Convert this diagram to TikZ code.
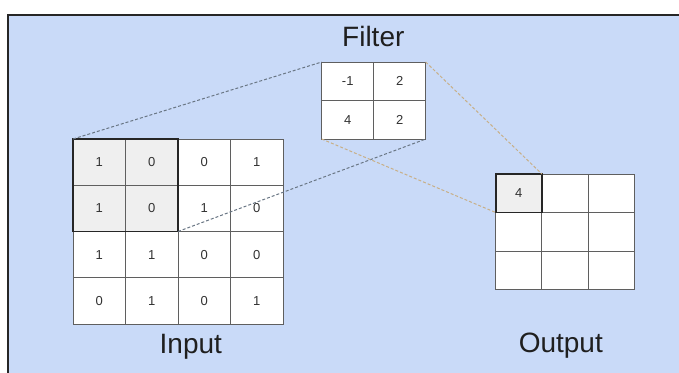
\documentclass[tikz,border=0pt]{standalone}
\usepackage{fontspec}
\setmainfont{Liberation Sans}
\usepackage{tikz}
\usetikzlibrary{positioning,calc}
\definecolor{PanelBlue}{RGB}{201,218,248}
\definecolor{GridGray}{RGB}{95,95,95}
\definecolor{CellGray}{RGB}{239,239,239}
\definecolor{LinkGray}{RGB}{105,118,132}
\definecolor{LinkTan}{RGB}{200,175,135}
\definecolor{TextDark}{RGB}{50,50,50}

\begin{document}
\begin{tikzpicture}[x=1pt,y=-1pt,every node/.style={font=\fontsize{13}{15}\selectfont,text=TextDark}]
\tikzset{cell/.style={draw=GridGray,line width=0.9pt,fill=white,inner sep=0pt,outer sep=0pt},incell/.style={cell,minimum width=52.5pt,minimum height=46.25pt},fcell/.style={cell,minimum width=52pt,minimum height=38.5pt},ocell/.style={cell,minimum width=46.2pt,minimum height=38.5pt},title/.style={font=\fontsize{28}{30}\selectfont,text=black!88,anchor=base},link/.style={dash pattern=on 3pt off 2pt,line width=1pt}}
\useasboundingbox (0,0) rectangle (679,372);
\clip (0,0) rectangle (679,372);
% panel
\fill[PanelBlue] (8,15) rectangle (700,390);
\draw[line width=2pt,black!85] (8,390) -- (8,15) -- (700,15);
% input 4x4, first two columns of rows 1-2 shaded
\foreach \r/\row/\k in {1/{1,0,0,1}/2,2/{1,0,1,0}/2,3/{1,1,0,0}/0,4/{0,1,0,1}/0}{
  \foreach \v [count=\c] in \row{
    \ifnum\c>\k \def\cf{white}\else \def\cf{CellGray}\fi
    \node[incell,fill=\cf] (in-\r-\c) at ({73+52.5*(\c-0.5)},{139+46.25*(\r-0.5)}) {\v};
  }
}
\draw[line width=1.6pt,black!85] (in-1-1.north west) rectangle (in-2-2.south east);
% filter 2x2
\foreach \r/\row in {1/{-1,2},2/{4,2}}{
  \foreach \v [count=\c] in \row{
    \node[fcell] (f-\r-\c) at ({321.7+52*(\c-0.5)},{62+38.5*(\r-0.5)}) {\v};
  }
}
% output 3x3
\foreach \r in {1,2,3}{
  \foreach \c in {1,2,3}{
    \node[ocell] (out-\r-\c) at ({495.7+46.2*(\c-0.5)},{174+38.5*(\r-0.5)}) {};
  }
}
\node[ocell,fill=CellGray,line width=1.6pt,draw=black!85] (out-first) at (out-1-1.center) {4};
% labels
\node[title] (ttl-f) at (373.3,46.7) {Filter};
\node[title] (ttl-in) at (190.8,353.3) {Input};
\node[title] (ttl-out) at (560.8,352.3) {Output};
% projections
\draw[link,LinkGray] (in-1-1.north west) -- (f-1-1.north west);
\draw[link,LinkGray] (in-2-2.south east) -- (f-2-2.south east);
\draw[link,LinkTan] (f-1-2.north east) -- (out-first.north east);
\draw[link,LinkTan] (f-2-1.south west) -- (out-first.south west);
\end{tikzpicture}
\end{document}
